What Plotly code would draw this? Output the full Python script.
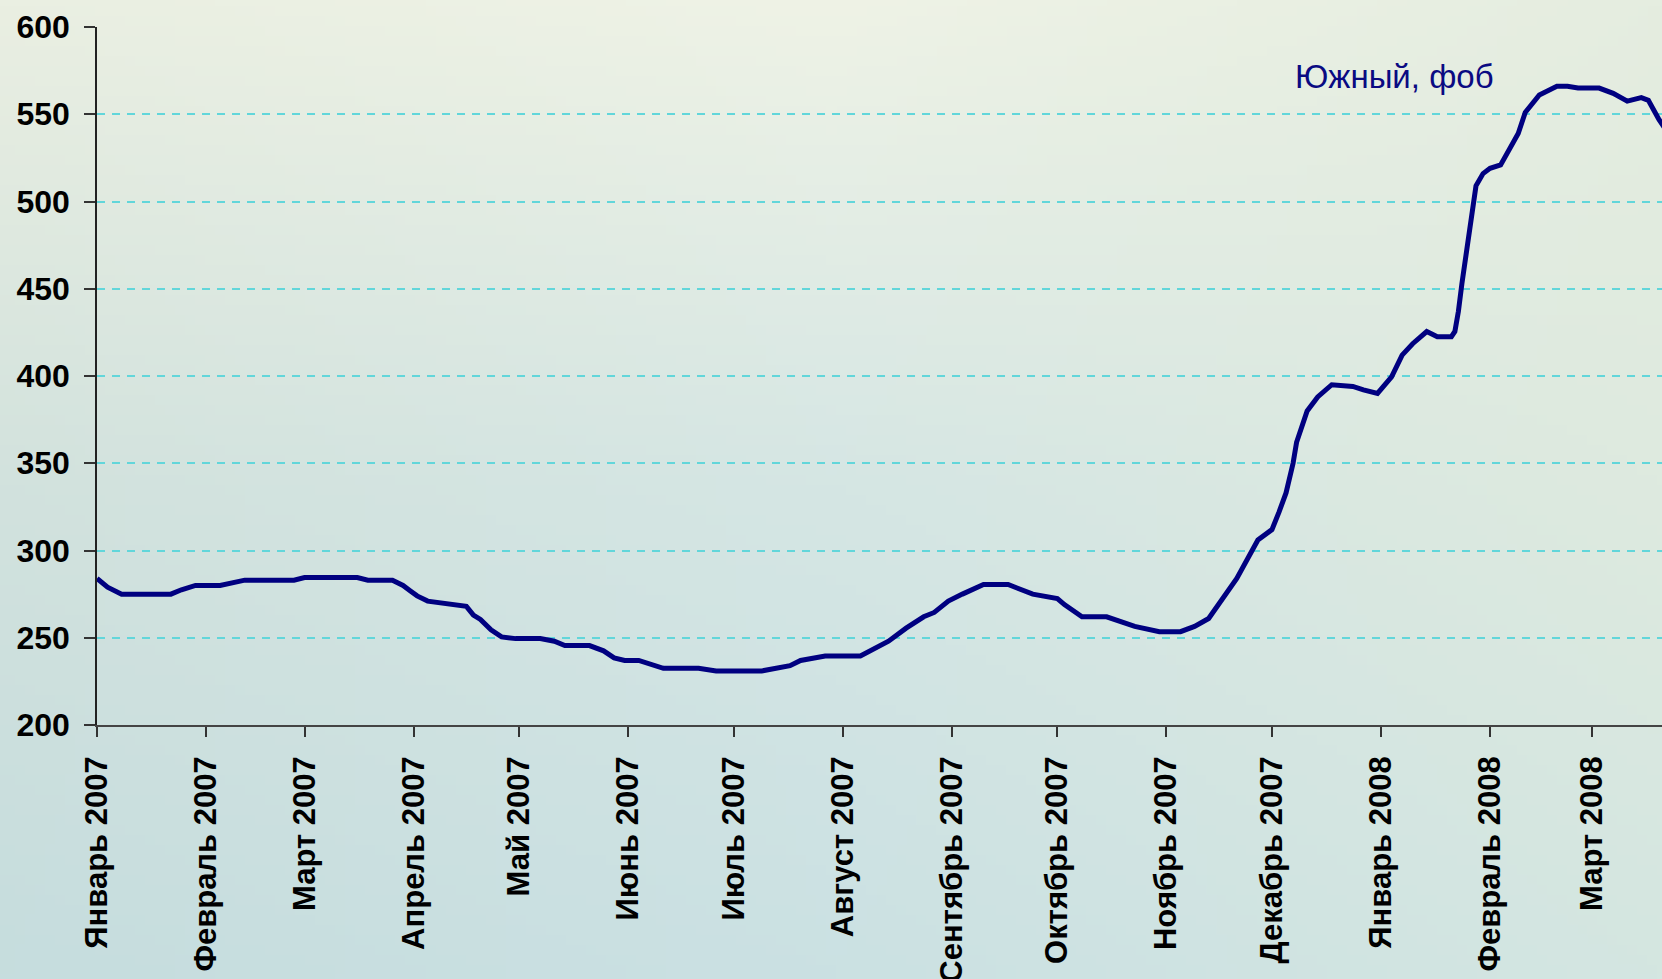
import base64, struct, zlib
import numpy as np
import plotly.graph_objects as go

# ---------------- data ----------------
dates = [
    "2007-01-01", "2007-01-04", "2007-01-08", "2007-01-22", "2007-01-25", "2007-01-29",
    "2007-02-05", "2007-02-09", "2007-02-12", "2007-02-26", "2007-03-01", "2007-03-16",
    "2007-03-19", "2007-03-26", "2007-03-29", "2007-03-31", "2007-04-02", "2007-04-05",
    "2007-04-10", "2007-04-14", "2007-04-16", "2007-04-18", "2007-04-20", "2007-04-23",
    "2007-04-26", "2007-04-30", "2007-05-07", "2007-05-11", "2007-05-14", "2007-05-21",
    "2007-05-25", "2007-05-28", "2007-05-31", "2007-06-04", "2007-06-08", "2007-06-11",
    "2007-06-21", "2007-06-26", "2007-07-09", "2007-07-17", "2007-07-20", "2007-07-27",
    "2007-08-06", "2007-08-14", "2007-08-19", "2007-08-24", "2007-08-27", "2007-08-31",
    "2007-09-04", "2007-09-10", "2007-09-17", "2007-09-24", "2007-10-01", "2007-10-03",
    "2007-10-08", "2007-10-15", "2007-10-23", "2007-10-30", "2007-11-05", "2007-11-09",
    "2007-11-13", "2007-11-19", "2007-11-21", "2007-11-27", "2007-12-01", "2007-12-03",
    "2007-12-05", "2007-12-07", "2007-12-08", "2007-12-11", "2007-12-14", "2007-12-18",
    "2007-12-24", "2007-12-27", "2007-12-31", "2008-01-04", "2008-01-07", "2008-01-10",
    "2008-01-14", "2008-01-17", "2008-01-21", "2008-01-22", "2008-01-23", "2008-01-24",
    "2008-01-25", "2008-01-26", "2008-01-27", "2008-01-28", "2008-01-30", "2008-02-01",
    "2008-02-04", "2008-02-07", "2008-02-09", "2008-02-11", "2008-02-15", "2008-02-20",
    "2008-02-23", "2008-02-26", "2008-03-03", "2008-03-07", "2008-03-11", "2008-03-15",
    "2008-03-17", "2008-03-20", "2008-03-22",
]
prices = [
    284, 279, 275, 275, 277.5, 280,
    280, 281.5, 283, 283, 284.5, 284.5,
    283, 283, 280, 277, 274, 271,
    269.5, 268, 268, 263, 260.5, 254.5,
    250.5, 249.5, 249.5, 248, 245.5, 245.5,
    242.5, 238.5, 237, 237, 234, 232.5,
    232.5, 231, 231, 234, 237, 239.5,
    239.5, 248, 255.5, 262, 264.5, 271,
    275, 280.5, 280.5, 275, 272.5, 269,
    262, 262, 256.5, 253.5, 253.5, 256.5,
    261, 277.5, 284, 306, 312, 322,
    333, 350, 362, 380, 388, 395,
    394, 392, 390, 399.5, 412, 418.5,
    425.5, 422.5, 422.5, 425.5, 437, 453,
    467, 481, 499, 509, 516, 519,
    521, 531, 539, 551, 561, 566,
    566, 565, 565, 562, 557.5, 559.5,
    558, 547, 541,
]
series_name = "Южный, фоб"

tick_dates = [
    "2007-01-01", "2007-02-01", "2007-03-01", "2007-04-01", "2007-05-01",
    "2007-06-01", "2007-07-01", "2007-08-01", "2007-09-01", "2007-10-01",
    "2007-11-01", "2007-12-01", "2008-01-01", "2008-02-01", "2008-03-01",
]
tick_labels = [
    "Январь 2007", "Февраль 2007", "Март 2007", "Апрель 2007", "Май 2007",
    "Июнь 2007", "Июль 2007", "Август 2007", "Сентябрь 2007", "Октябрь 2007",
    "Ноябрь 2007", "Декабрь 2007", "Январь 2008", "Февраль 2008", "Март 2008",
]
y_ticks = [200, 250, 300, 350, 400, 450, 500, 550, 600]

# ---------------- background gradient image ----------------
def make_bg(w=166, h=98):
    ctrl = np.array([
        [[234, 239, 226], [239, 243, 230], [229, 237, 224]],
        [[210, 226, 221], [213, 230, 228], [222, 234, 223]],
        [[198, 221, 222], [203, 225, 227], [212, 230, 225]],
    ], dtype=float)
    ys = np.linspace(0, 2, h)
    xs = np.linspace(0, 2, w)
    img = np.zeros((h, w, 3))
    for i, yy in enumerate(ys):
        y0 = min(int(yy), 1); fy = yy - y0
        for j, xx in enumerate(xs):
            x0 = min(int(xx), 1); fx = xx - x0
            c = (ctrl[y0, x0] * (1 - fx) * (1 - fy) + ctrl[y0, x0 + 1] * fx * (1 - fy)
                 + ctrl[y0 + 1, x0] * (1 - fx) * fy + ctrl[y0 + 1, x0 + 1] * fx * fy)
            img[i, j] = c
    arr = np.clip(img, 0, 255).astype(np.uint8)
    raw = b"".join(b"\x00" + arr[i].tobytes() for i in range(h))

    def chunk(tag, data):
        return (struct.pack(">I", len(data)) + tag + data
                + struct.pack(">I", zlib.crc32(tag + data) & 0xFFFFFFFF))

    png = (b"\x89PNG\r\n\x1a\n"
           + chunk(b"IHDR", struct.pack(">IIBBBBB", w, h, 8, 2, 0, 0, 0))
           + chunk(b"IDAT", zlib.compress(raw, 9))
           + chunk(b"IEND", b""))
    return "data:image/png;base64," + base64.b64encode(png).decode()

W, H = 1662, 979
ML, MR, MT, MB = 97, 0, 27, 254
PW, PH = W - ML - MR, H - MT - MB

fig = go.Figure()
fig.add_trace(go.Scatter(
    x=dates, y=prices, mode="lines", name=series_name,
    line=dict(color="#000080", width=5),
    showlegend=False,
))

fig.add_annotation(
    text=series_name, xref="paper", yref="paper",
    x=(1293 - ML) / PW, y=(MT + PH - 77) / PH,
    xanchor="left", yanchor="middle", showarrow=False,
    font=dict(family="Liberation Sans, Arial", size=33, color="#0a0a82"),
)

fig.add_layout_image(dict(
    source=make_bg(), xref="paper", yref="paper",
    x=-ML / PW, y=1 + MT / PH, sizex=W / PW, sizey=H / PH,
    xanchor="left", yanchor="top", sizing="stretch", layer="below",
))

fig.update_layout(
    width=W, height=H,
    margin=dict(l=ML, r=MR, t=MT, b=MB, autoexpand=False),
    paper_bgcolor="#dae8e2", plot_bgcolor="rgba(0,0,0,0)",
    font=dict(family="Liberation Sans, Arial", color="#000000"),
    showlegend=False,
)
fig.update_xaxes(
    type="date", range=["2007-01-01", "2008-03-20 21:00"],
    tickmode="array", tickvals=tick_dates, ticktext=tick_labels,
    tickangle=-90, tickfont=dict(size=31, family="Liberation Sans, Arial", color="#000", weight="bold"),
    ticks="outside", ticklen=10, tickwidth=1.5, tickcolor="#333",
    showline=True, linecolor="#444", linewidth=1.8,
    showgrid=False, zeroline=False, ticklabelstandoff=7, automargin=False,
)
fig.update_yaxes(
    range=[200, 600], tickmode="array", tickvals=y_ticks,
    tickfont=dict(size=32, family="Liberation Sans, Arial", color="#000", weight="bold"),
    ticks="outside", ticklen=11, tickwidth=1.5, tickcolor="#333",
    showline=True, linecolor="#222", linewidth=1.5,
    showgrid=True, gridcolor="#62d6da", gridwidth=2, griddash="8px,7px",
    zeroline=False, ticklabelstandoff=8, automargin=False,
)

fig.write_html(
    "out.html",
    config={"displayModeBar": False},
    post_script="document.body.style.margin='0';document.body.style.overflow='hidden';",
)
